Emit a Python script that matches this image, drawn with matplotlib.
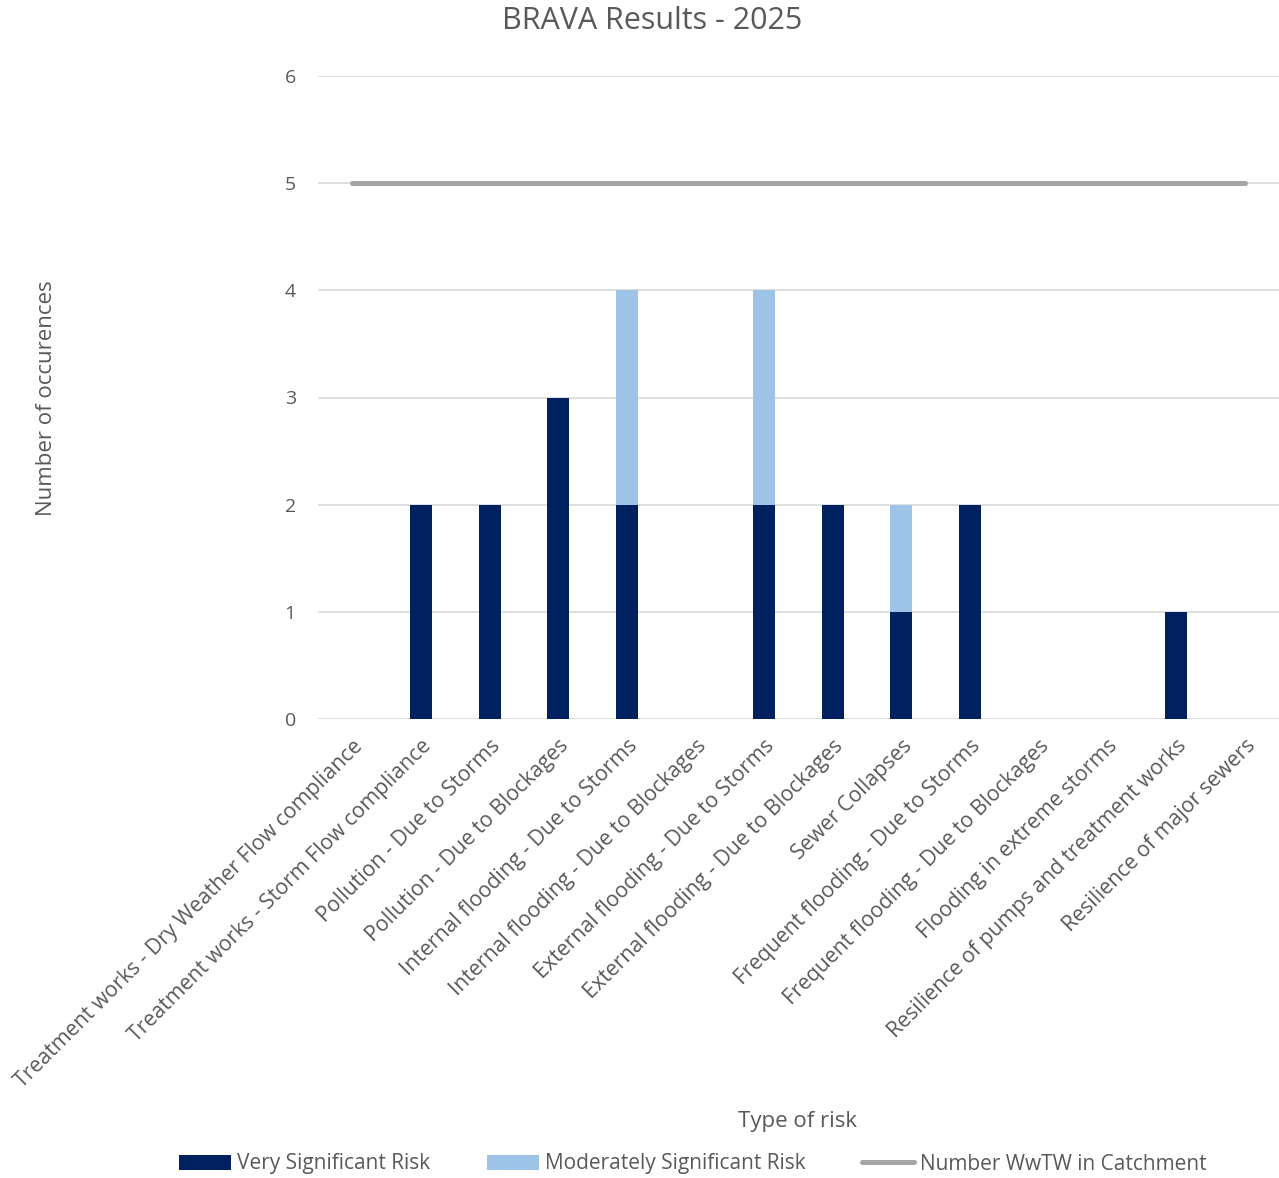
import matplotlib
matplotlib.use("Agg")
import matplotlib.pyplot as plt
import numpy as np

categories = [
    "Treatment works - Dry Weather Flow compliance",
    "Treatment works - Storm Flow compliance",
    "Pollution - Due to Storms",
    "Pollution - Due to Blockages",
    "Internal flooding - Due to Storms",
    "Internal flooding - Due to Blockages",
    "External flooding - Due to Storms",
    "External flooding - Due to Blockages",
    "Sewer Collapses",
    "Frequent flooding - Due to Storms",
    "Frequent flooding - Due to Blockages",
    "Flooding in extreme storms",
    "Resilience of pumps and treatment works",
    "Resilience of major sewers",
]
very_significant = [0, 2, 2, 3, 2, 0, 2, 2, 1, 2, 0, 0, 1, 0]
moderately_significant = [0, 0, 0, 0, 2, 0, 2, 0, 1, 0, 0, 0, 0, 0]
wwtw_count = [5] * 14

plt.rcParams['font.family'] = ['Open Sans', 'DejaVu Sans']
txt = '#595959'

fig = plt.figure(figsize=(12.79, 11.78), dpi=100)
ax = fig.add_axes([318/1279, 459/1178, (1279-318)/1279, (719-76)/1178])

x = np.arange(len(categories))
w = 0.32
ax.bar(x, very_significant, w, color='#002060', label='Very Significant Risk', zorder=3)
ax.bar(x, moderately_significant, w, bottom=very_significant, color='#9DC3E6',
       label='Moderately Significant Risk', zorder=3)
ax.plot(x, wwtw_count, color='#A5A5A5', lw=3.6, solid_capstyle='round',
        label='Number WwTW in Catchment', zorder=4)

ax.set_xlim(-0.5, len(categories) - 0.5)
ax.set_ylim(0, 6)
ax.set_yticks(range(0, 7))
ax.grid(axis='y', color='#D9D9D9', lw=1.2, zorder=0)
for s in ax.spines.values():
    s.set_visible(False)
ax.tick_params(axis='y', length=0, labelsize=14, colors=txt, pad=16)
ax.tick_params(axis='x', length=0, labelsize=15.3, colors=txt, pad=12)
ax.set_xticks(x)
ax.set_xticklabels(categories, rotation=45, ha='right', va='top', rotation_mode='anchor')

fig.text(652/1279, 1 - 21/1178, 'BRAVA Results - 2025', ha='center', va='center',
         fontsize=22, color=txt)
fig.text(47/1279, 1 - 398/1178, 'Number of occurences', rotation=90, ha='center', va='center',
         fontsize=16, color=txt)
fig.text(798/1279, 1 - 1121/1178, 'Type of risk', ha='center', va='center', fontsize=16, color=txt)

h, l = ax.get_legend_handles_labels()
order = [1, 2, 0]
leg = fig.legend([h[i] for i in order], [l[i] for i in order], loc='center',
                 bbox_to_anchor=(693/1279, 1 - 1164/1178), ncol=3, frameon=False,
                 fontsize=15, handlelength=2.5, handletextpad=0.3, columnspacing=2.7)
for t in leg.get_texts():
    t.set_color(txt)

fig.savefig('out.png', dpi=100)
